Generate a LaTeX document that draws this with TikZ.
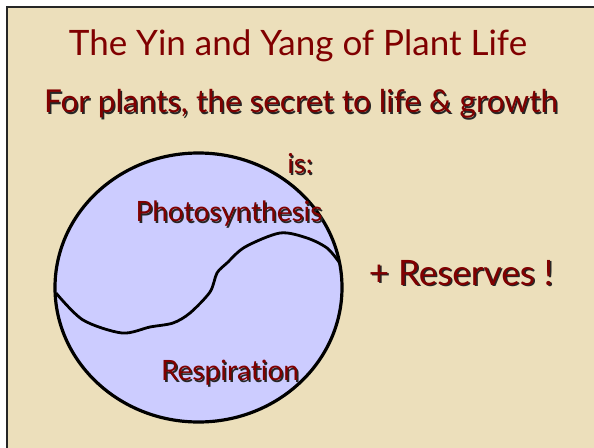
\documentclass[tikz,border=0pt]{standalone}
\usepackage{fontspec}
\setmainfont{Lato}[Ligatures={NoCommon,NoRare,NoDiscretionary}]
\usetikzlibrary{shapes.geometric}
\definecolor{parch}{RGB}{236,223,187}
\definecolor{darkred}{RGB}{128,0,0}
\definecolor{lav}{RGB}{204,204,255}
\tikzset{
  redtxt/.style={text=darkred, inner sep=0pt, anchor=center},
  shadowtxt/.style={text=black!85, inner sep=0pt, anchor=center},
}
\newcommand{\shtext}[5]{% name, x, y, font, text
  \node[shadowtxt, font=#4] at (#2+1.5,#3+1.5) {#5};
  \node[redtxt, font=#4] (#1) at (#2,#3) {#5};}
\begin{document}
\begin{tikzpicture}[x=1pt,y=-1pt]
\useasboundingbox (0,0) rectangle (594,447);
\fill[white] (0,0) rectangle (594,447);
\fill[parch] (7,7) rectangle (600,460);
\draw[black!85, line width=1.6pt] (7,470) -- (7,7) -- (610,7);
% title
\node[redtxt, font=\fontsize{35}{40}\selectfont] (title) at (298,46) {The Yin and Yang of Plant Life};
\shtext{sub}{301}{104}{\fontsize{31.5}{36}\selectfont}{For plants, the secret to life \& growth}
% circle
\node[ellipse, draw=black, line width=3.2pt, fill=lav, minimum width=287pt, minimum height=269pt, inner sep=0pt] (circ) at (198.5,287.5) {};
\draw[line width=2.8pt, line join=round] plot[smooth, tension=0.5] coordinates {
 (56,293) (83,320) (122,333) (150,327) (173,323) (190,313) (210,292) (217,273) (227,263) (245,247) (280,233) (307,238) (327,248) (339,262)};
\shtext{is}{300}{164}{\fontsize{27.5}{32}\selectfont}{is:}
\shtext{photo}{229}{214}{\fontsize{28}{32}\selectfont}{Photosynthesis}
\shtext{resp}{230}{373}{\fontsize{28}{32}\selectfont}{Respiration}
\shtext{res}{461}{273}{\fontsize{35}{40}\selectfont}{+ Reserves !}
\end{tikzpicture}
\end{document}
